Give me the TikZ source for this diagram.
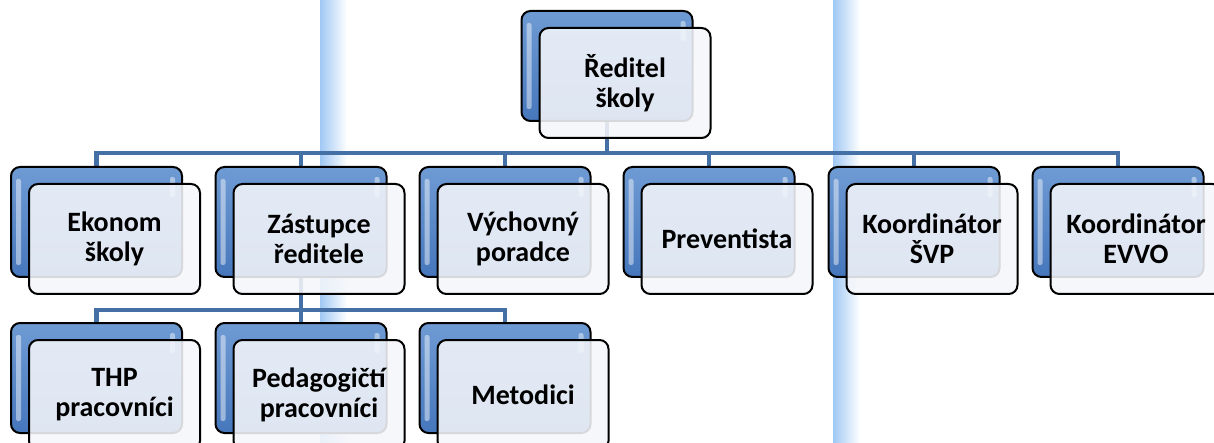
\documentclass[tikz,border=0pt]{standalone}
\usepackage{fontspec}
\setmainfont{Carlito}
\usetikzlibrary{backgrounds}
\definecolor{modrahore}{HTML}{6F9BD4}
\definecolor{modradole}{HTML}{4677BC}
\definecolor{spojmodra}{HTML}{4470A6}
\definecolor{pruh}{HTML}{A0C8F4}
\definecolor{svetla}{HTML}{F4F6FA}
\begin{document}
\begin{tikzpicture}[x=1pt,y=-1pt]
\tikzset{zadni/.style={draw=black, line width=2pt, rounded corners=9pt, minimum width=171pt, minimum height=110pt, top color=modrahore, bottom color=modradole,
  path picture={\fill[white, fill opacity=0.45, rounded corners=2pt] ([shift={(5pt,-12pt)}]path picture bounding box.north west) rectangle ([shift={(10pt,12pt)}]path picture bounding box.south west);
    \fill[white, fill opacity=0.45, rounded corners=2pt] ([shift={(-12pt,-10pt)}]path picture bounding box.north east) rectangle ([shift={(-7pt,-30pt)}]path picture bounding box.north east);}},
  predni/.style={draw=black, line width=2pt, rounded corners=9pt, minimum width=171pt, minimum height=110pt, fill=svetla, fill opacity=0.88, text opacity=1, align=center, font=\fontsize{28pt}{30pt}\selectfont\bfseries},
  spoj/.style={draw=spojmodra, line width=4.5pt}}
\useasboundingbox (0,0) rectangle (1214,443);
\node[zadni] (reditel-b) at (607,66) {};
\node[predni] (reditel) at (625,83) {Ředitel\\školy};
\node[zadni] (ekonom-b) at (96.5,222) {};
\node[predni] (ekonom) at (114.5,239) {Ekonom\\školy};
\node[zadni] (zastupce-b) at (301,222) {};
\node[predni] (zastupce) at (319,239) {Zástupce\\ředitele};
\node[zadni] (vychovny-b) at (505,222) {};
\node[predni] (vychovny) at (523,239) {Výchovný\\poradce};
\node[zadni] (preventista-b) at (709,222) {};
\node[predni] (preventista) at (727,239) {Preventista};
\node[zadni] (svp-b) at (914,222) {};
\node[predni] (svp) at (932,239) {Koordinátor\\ŠVP};
\node[zadni] (evvo-b) at (1118,222) {};
\node[predni] (evvo) at (1136,239) {Koordinátor\\EVVO};
\node[zadni] (thp-b) at (96.5,378) {};
\node[predni] (thp) at (114.5,395) {THP\\pracovníci};
\node[zadni] (pedagogove-b) at (301,378) {};
\node[predni] (pedagogove) at (319,395) {Pedagogičtí\\pracovníci};
\node[zadni] (metodici-b) at (505,378) {};
\node[predni] (metodici) at (523,395) {Metodici};
\begin{scope}[on background layer]
\shade[left color=pruh, right color=white] (320,0) rectangle (347,443);
\shade[left color=pruh, right color=white] (833,0) rectangle (860,443);
\coordinate (sbernice1) at (0,153);
\coordinate (sbernice2) at (0,310);
\draw[spoj] (reditel-b.south) -- (reditel-b.south |- sbernice1);
\draw[spoj] (ekonom-b.north) -- (ekonom-b.north |- sbernice1) -| (evvo-b.north);
\foreach \n in {zastupce,vychovny,preventista,svp}
  \draw[spoj] (\n-b.north) -- (\n-b.north |- sbernice1);
\draw[spoj] (zastupce-b.south) -- (zastupce-b.south |- sbernice2);
\draw[spoj] (thp-b.north) -- (thp-b.north |- sbernice2) -| (metodici-b.north);
\draw[spoj] (pedagogove-b.north) -- (pedagogove-b.north |- sbernice2);
\end{scope}
\end{tikzpicture}
\end{document}
